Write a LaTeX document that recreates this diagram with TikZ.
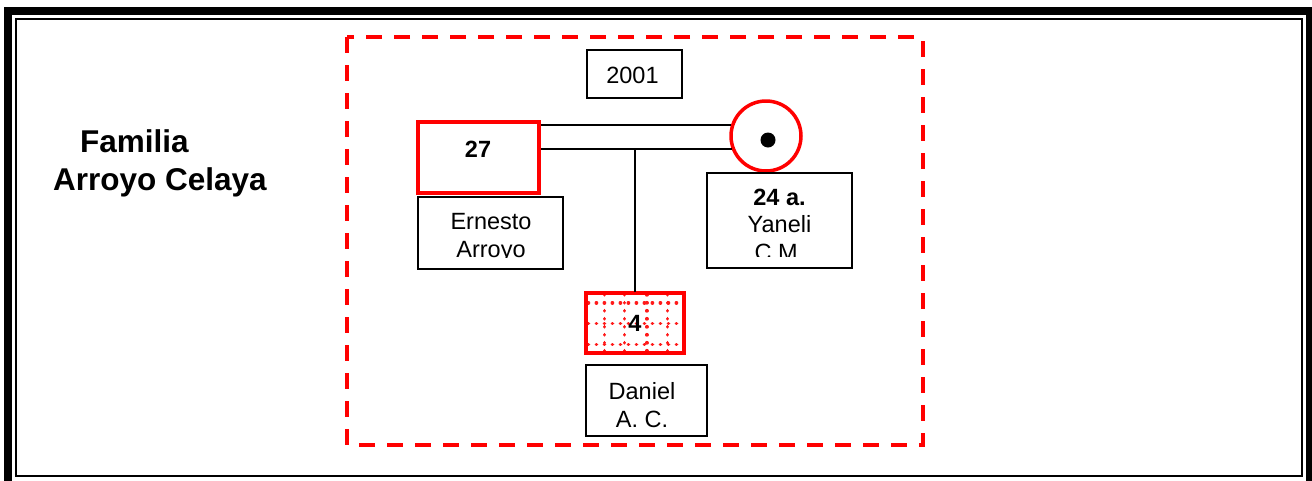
\documentclass[tikz,border=0pt]{standalone}
\usepackage{fontspec}
\setmainfont{Liberation Sans}
\begin{document}
\begin{tikzpicture}[x=1pt,y=-1pt,
  txt/.style={font=\fontsize{23.5}{27.5}\selectfont, align=center, inner sep=0pt},
  boldtxt/.style={font=\fontsize{23.5}{27.5}\selectfont\bfseries, inner sep=0pt},
  bigtxt/.style={font=\fontsize{31.5}{36}\selectfont\bfseries, inner sep=0pt},
  bx/.style={draw, line width=2pt, inner sep=0pt},
  redbx/.style={draw=red, line width=4pt, inner sep=0pt},
  gridline/.style={red!90, line width=3.6pt, line cap=round, dash pattern=on 0.2pt off 7.8pt},
  tie/.style={line width=1.7pt}]
\useasboundingbox (0,0) rectangle (1312,480);
% frame
\draw[line width=8pt] (8,11) rectangle (1310,486);
\draw[line width=2pt] (15.5,18.5) rectangle (1301.5,476);
\draw[red, line width=4pt, dash pattern=on 16pt off 12pt] (347,37) rectangle (922.5,445);
% title
\node (fam1) [bigtxt, anchor=base west] at (80,152) {Familia};
\node (fam2) [bigtxt, anchor=base west] at (53,190) {Arroyo Celaya};
% year
\node (year) [bx, minimum width=95pt, minimum height=48pt] at (634.5,74) {};
\node (yeartext) [txt] at (632.5,75) {2001};
% father
\node (father) [redbx, minimum width=121pt, minimum height=71pt] at (478.5,157.5) {};
\node (fatherage) [boldtxt] at (478,149) {27};
% mother
\node (mother) [circle, draw=red, line width=3.5pt, minimum size=70pt, inner sep=0pt] at (766,136) {};
\node (motherdot) [circle, fill=black, minimum size=15pt, inner sep=0pt] at (768,140) {};
% marriage lines
\draw[tie] (father.east |- mother.163.4) -- (mother.163.4);
\draw[tie] (father.east |- mother.201.8) -- (mother.201.8);
% son
\node (son) [minimum width=98pt, minimum height=60pt, inner sep=0pt] at (635,322.5) {};
\begin{scope}
  \clip (son.south west) rectangle (son.north east);
  \foreach \gx in {604.3,624.5,646.7,667.3}
    \draw[gridline] (\gx,286.7) -- (\gx,360);
  \foreach \gy in {302.7,323.3,344.3}
    \draw[gridline] (580.3,\gy) -- (690,\gy);
\end{scope}
\node (sonframe) [redbx, minimum width=98pt, minimum height=60pt] at (son) {};
\node (sonage) [boldtxt] at (635,323) {4};
\draw[tie] (son.north) -- (son.north |- mother.201.8);
% name boxes
\node (ernesto) [bx, minimum width=145pt, minimum height=72pt] at (490.5,233) {};
\begin{scope}
  \clip (419,198) rectangle (562,257);
  \node (ernestotext) [txt, anchor=north] at (491,213.5) {Ernesto\\Arroyo};
\end{scope}
\node (yaneli) [bx, minimum width=145pt, minimum height=95pt] at (779.5,220.5) {};
\begin{scope}
  \clip (708,174) rectangle (851,256);
  \node (yanelitext) [txt, anchor=north] at (779.5,188.5) {\textbf{24 a.}\\Yaneli\\C.M.};
\end{scope}
\node (daniel) [bx, minimum width=121pt, minimum height=71pt] at (646.5,400.5) {};
\node (danieltext) [txt, anchor=north] at (642,382.5) {Daniel\\A. C.};
\end{tikzpicture}
\end{document}
